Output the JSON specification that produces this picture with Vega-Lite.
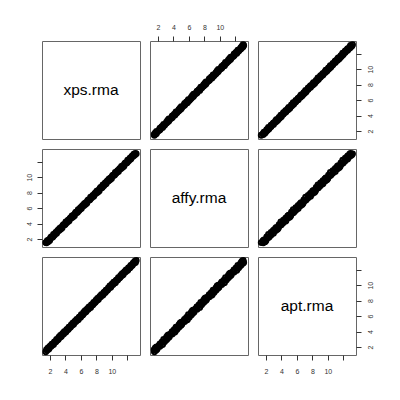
{
  "$schema": "https://vega.github.io/schema/vega-lite/v6.json",
  "padding": {"left": 24, "top": 22, "right": 0, "bottom": 0},
  "config": {
    "font": "Liberation Sans",
    "view": {"stroke": "#666", "strokeWidth": 1},
    "axis": {"grid": false, "domain": false, "title": null, "tickSize": 5, "tickColor": "#333", "labelFontSize": 7, "labelFont": "Liberation Sans", "labelColor": "#333", "labelOverlap": false, "labelFlush": false},
    "point": {"shape": "circle", "filled": false, "color": "black", "size": 24, "strokeWidth": 2, "opacity": 1},
    "text": {"font": "Liberation Sans", "fontSize": 15.5, "color": "black", "align": "center", "baseline": "middle"}
  },
  "datasets": {
    "d": [
      {"xps": 1.45, "affy": 1.53, "apt": 1.38},
      {"xps": 1.55, "affy": 1.50, "apt": 1.65},
      {"xps": 1.65, "affy": 1.77, "apt": 1.62},
      {"xps": 1.75, "affy": 1.65, "apt": 1.88},
      {"xps": 1.85, "affy": 1.88, "apt": 1.74},
      {"xps": 1.95, "affy": 1.81, "apt": 1.99},
      {"xps": 2.05, "affy": 2.11, "apt": 2.14},
      {"xps": 2.15, "affy": 2.25, "apt": 2.09},
      {"xps": 2.25, "affy": 2.23, "apt": 2.37},
      {"xps": 2.35, "affy": 2.26, "apt": 2.34},
      {"xps": 2.45, "affy": 2.59, "apt": 2.32},
      {"xps": 2.55, "affy": 2.49, "apt": 2.62},
      {"xps": 2.65, "affy": 2.66, "apt": 2.67},
      {"xps": 2.75, "affy": 2.84, "apt": 2.66},
      {"xps": 2.85, "affy": 2.73, "apt": 2.96},
      {"xps": 2.95, "affy": 3.00, "apt": 2.91},
      {"xps": 3.05, "affy": 3.13, "apt": 2.98},
      {"xps": 3.15, "affy": 3.10, "apt": 3.25},
      {"xps": 3.25, "affy": 3.37, "apt": 3.22},
      {"xps": 3.35, "affy": 3.25, "apt": 3.48},
      {"xps": 3.45, "affy": 3.48, "apt": 3.34},
      {"xps": 3.55, "affy": 3.41, "apt": 3.59},
      {"xps": 3.65, "affy": 3.71, "apt": 3.74},
      {"xps": 3.75, "affy": 3.85, "apt": 3.69},
      {"xps": 3.85, "affy": 3.83, "apt": 3.97},
      {"xps": 3.95, "affy": 3.86, "apt": 3.94},
      {"xps": 4.05, "affy": 4.19, "apt": 3.92},
      {"xps": 4.15, "affy": 4.09, "apt": 4.22},
      {"xps": 4.25, "affy": 4.26, "apt": 4.27},
      {"xps": 4.35, "affy": 4.44, "apt": 4.26},
      {"xps": 4.45, "affy": 4.33, "apt": 4.56},
      {"xps": 4.55, "affy": 4.60, "apt": 4.51},
      {"xps": 4.65, "affy": 4.73, "apt": 4.58},
      {"xps": 4.75, "affy": 4.70, "apt": 4.85},
      {"xps": 4.85, "affy": 4.97, "apt": 4.82},
      {"xps": 4.95, "affy": 4.85, "apt": 5.08},
      {"xps": 5.05, "affy": 5.08, "apt": 4.94},
      {"xps": 5.15, "affy": 5.01, "apt": 5.19},
      {"xps": 5.25, "affy": 5.31, "apt": 5.34},
      {"xps": 5.35, "affy": 5.45, "apt": 5.29},
      {"xps": 5.45, "affy": 5.43, "apt": 5.57},
      {"xps": 5.55, "affy": 5.46, "apt": 5.54},
      {"xps": 5.65, "affy": 5.79, "apt": 5.52},
      {"xps": 5.75, "affy": 5.69, "apt": 5.82},
      {"xps": 5.85, "affy": 5.86, "apt": 5.87},
      {"xps": 5.95, "affy": 6.04, "apt": 5.86},
      {"xps": 6.05, "affy": 5.93, "apt": 6.16},
      {"xps": 6.15, "affy": 6.20, "apt": 6.11},
      {"xps": 6.25, "affy": 6.33, "apt": 6.18},
      {"xps": 6.35, "affy": 6.30, "apt": 6.45},
      {"xps": 6.45, "affy": 6.57, "apt": 6.42},
      {"xps": 6.55, "affy": 6.45, "apt": 6.68},
      {"xps": 6.65, "affy": 6.68, "apt": 6.54},
      {"xps": 6.75, "affy": 6.61, "apt": 6.79},
      {"xps": 6.85, "affy": 6.91, "apt": 6.94},
      {"xps": 6.95, "affy": 7.05, "apt": 6.89},
      {"xps": 7.05, "affy": 7.03, "apt": 7.17},
      {"xps": 7.15, "affy": 7.06, "apt": 7.14},
      {"xps": 7.25, "affy": 7.39, "apt": 7.12},
      {"xps": 7.35, "affy": 7.29, "apt": 7.42},
      {"xps": 7.45, "affy": 7.46, "apt": 7.47},
      {"xps": 7.55, "affy": 7.64, "apt": 7.46},
      {"xps": 7.65, "affy": 7.53, "apt": 7.76},
      {"xps": 7.75, "affy": 7.80, "apt": 7.71},
      {"xps": 7.85, "affy": 7.93, "apt": 7.78},
      {"xps": 7.95, "affy": 7.90, "apt": 8.05},
      {"xps": 8.05, "affy": 8.17, "apt": 8.02},
      {"xps": 8.15, "affy": 8.05, "apt": 8.28},
      {"xps": 8.25, "affy": 8.28, "apt": 8.14},
      {"xps": 8.35, "affy": 8.21, "apt": 8.39},
      {"xps": 8.45, "affy": 8.51, "apt": 8.54},
      {"xps": 8.55, "affy": 8.65, "apt": 8.49},
      {"xps": 8.65, "affy": 8.63, "apt": 8.77},
      {"xps": 8.75, "affy": 8.66, "apt": 8.74},
      {"xps": 8.85, "affy": 8.99, "apt": 8.72},
      {"xps": 8.95, "affy": 8.89, "apt": 9.02},
      {"xps": 9.05, "affy": 9.06, "apt": 9.07},
      {"xps": 9.15, "affy": 9.24, "apt": 9.06},
      {"xps": 9.25, "affy": 9.13, "apt": 9.36},
      {"xps": 9.35, "affy": 9.40, "apt": 9.31},
      {"xps": 9.45, "affy": 9.53, "apt": 9.38},
      {"xps": 9.55, "affy": 9.50, "apt": 9.65},
      {"xps": 9.65, "affy": 9.77, "apt": 9.62},
      {"xps": 9.75, "affy": 9.65, "apt": 9.88},
      {"xps": 9.85, "affy": 9.88, "apt": 9.74},
      {"xps": 9.95, "affy": 9.81, "apt": 9.99},
      {"xps": 10.05, "affy": 10.11, "apt": 10.14},
      {"xps": 10.15, "affy": 10.25, "apt": 10.09},
      {"xps": 10.25, "affy": 10.23, "apt": 10.37},
      {"xps": 10.35, "affy": 10.26, "apt": 10.34},
      {"xps": 10.45, "affy": 10.59, "apt": 10.32},
      {"xps": 10.55, "affy": 10.49, "apt": 10.62},
      {"xps": 10.65, "affy": 10.66, "apt": 10.67},
      {"xps": 10.75, "affy": 10.84, "apt": 10.66},
      {"xps": 10.85, "affy": 10.73, "apt": 10.96},
      {"xps": 10.95, "affy": 11.00, "apt": 10.91},
      {"xps": 11.05, "affy": 11.13, "apt": 10.98},
      {"xps": 11.15, "affy": 11.10, "apt": 11.25},
      {"xps": 11.25, "affy": 11.37, "apt": 11.22},
      {"xps": 11.35, "affy": 11.25, "apt": 11.48},
      {"xps": 11.45, "affy": 11.48, "apt": 11.34},
      {"xps": 11.55, "affy": 11.41, "apt": 11.59},
      {"xps": 11.65, "affy": 11.71, "apt": 11.74},
      {"xps": 11.75, "affy": 11.85, "apt": 11.69},
      {"xps": 11.85, "affy": 11.83, "apt": 11.97},
      {"xps": 11.95, "affy": 11.86, "apt": 11.94},
      {"xps": 12.05, "affy": 12.19, "apt": 11.92},
      {"xps": 12.15, "affy": 12.09, "apt": 12.22},
      {"xps": 12.25, "affy": 12.26, "apt": 12.27},
      {"xps": 12.35, "affy": 12.44, "apt": 12.26},
      {"xps": 12.45, "affy": 12.33, "apt": 12.56},
      {"xps": 12.55, "affy": 12.60, "apt": 12.51},
      {"xps": 12.65, "affy": 12.73, "apt": 12.58},
      {"xps": 12.75, "affy": 12.70, "apt": 12.85},
      {"xps": 12.85, "affy": 12.97, "apt": 12.82},
      {"xps": 12.95, "affy": 12.85, "apt": 13.08},
      {"xps": 13.05, "affy": 13.08, "apt": 12.94},
      {"xps": 13.15, "affy": 13.01, "apt": 13.19}
    ]
  },
  "columns": 3,
  "spacing": 10,
  "bounds": "flush",
  "concat": [
    {
      "width": 98, "height": 98,
      "data": {"values": [{"label": "xps.rma"}]},
      "mark": {"type": "text"},
      "encoding": {
        "text": {"field": "label", "type": "nominal"},
        "x": {"datum": 7.3, "type": "quantitative", "scale": {"domain": [0.96, 13.64], "nice": false, "zero": false}, "axis": null},
        "y": {"datum": 7.3, "type": "quantitative", "scale": {"domain": [0.96, 13.64], "nice": false, "zero": false}, "axis": null}
      }
    },
    {
      "width": 98, "height": 98,
      "data": {"name": "d"},
      "mark": {"type": "point"},
      "encoding": {
        "x": {"field": "affy", "type": "quantitative", "scale": {"domain": [0.96, 13.64], "nice": false, "zero": false}, "axis": {"orient": "top", "labelPadding": 6, "values": [2, 4, 6, 8, 10, 12], "labelExpr": "datum.value == 12 ? '' : datum.label"}},
        "y": {"field": "xps", "type": "quantitative", "scale": {"domain": [0.96, 13.64], "nice": false, "zero": false}, "axis": null}
      }
    },
    {
      "width": 98, "height": 98,
      "data": {"name": "d"},
      "mark": {"type": "point"},
      "encoding": {
        "x": {"field": "apt", "type": "quantitative", "scale": {"domain": [0.96, 13.64], "nice": false, "zero": false}, "axis": null},
        "y": {"field": "xps", "type": "quantitative", "scale": {"domain": [0.96, 13.64], "nice": false, "zero": false}, "axis": {"orient": "right", "labelAngle": 270, "labelAlign": "center", "labelBaseline": "top", "labelPadding": 5, "values": [2, 4, 6, 8, 10, 12], "labelExpr": "datum.value == 12 ? '' : datum.label"}}
      }
    },
    {
      "width": 98, "height": 98,
      "data": {"name": "d"},
      "mark": {"type": "point"},
      "encoding": {
        "x": {"field": "xps", "type": "quantitative", "scale": {"domain": [0.96, 13.64], "nice": false, "zero": false}, "axis": null},
        "y": {"field": "affy", "type": "quantitative", "scale": {"domain": [0.96, 13.64], "nice": false, "zero": false}, "axis": {"orient": "left", "labelAngle": 270, "labelAlign": "center", "labelBaseline": "bottom", "labelPadding": 4.5, "values": [2, 4, 6, 8, 10, 12], "labelExpr": "datum.value == 12 ? '' : datum.label"}}
      }
    },
    {
      "width": 98, "height": 98,
      "data": {"values": [{"label": "affy.rma"}]},
      "mark": {"type": "text"},
      "encoding": {
        "text": {"field": "label", "type": "nominal"},
        "x": {"datum": 7.3, "type": "quantitative", "scale": {"domain": [0.96, 13.64], "nice": false, "zero": false}, "axis": null},
        "y": {"datum": 7.3, "type": "quantitative", "scale": {"domain": [0.96, 13.64], "nice": false, "zero": false}, "axis": null}
      }
    },
    {
      "width": 98, "height": 98,
      "data": {"name": "d"},
      "mark": {"type": "point"},
      "encoding": {
        "x": {"field": "apt", "type": "quantitative", "scale": {"domain": [0.96, 13.64], "nice": false, "zero": false}, "axis": null},
        "y": {"field": "affy", "type": "quantitative", "scale": {"domain": [0.96, 13.64], "nice": false, "zero": false}, "axis": null}
      }
    },
    {
      "width": 98, "height": 98,
      "data": {"name": "d"},
      "mark": {"type": "point"},
      "encoding": {
        "x": {"field": "xps", "type": "quantitative", "scale": {"domain": [0.96, 13.64], "nice": false, "zero": false}, "axis": {"orient": "bottom", "labelPadding": 7, "values": [2, 4, 6, 8, 10, 12], "labelExpr": "datum.value == 12 ? '' : datum.label"}},
        "y": {"field": "apt", "type": "quantitative", "scale": {"domain": [0.96, 13.64], "nice": false, "zero": false}, "axis": null}
      }
    },
    {
      "width": 98, "height": 98,
      "data": {"name": "d"},
      "mark": {"type": "point"},
      "encoding": {
        "x": {"field": "affy", "type": "quantitative", "scale": {"domain": [0.96, 13.64], "nice": false, "zero": false}, "axis": null},
        "y": {"field": "apt", "type": "quantitative", "scale": {"domain": [0.96, 13.64], "nice": false, "zero": false}, "axis": null}
      }
    },
    {
      "width": 98, "height": 98,
      "data": {"values": [{"label": "apt.rma"}]},
      "mark": {"type": "text"},
      "encoding": {
        "text": {"field": "label", "type": "nominal"},
        "x": {"datum": 7.3, "type": "quantitative", "scale": {"domain": [0.96, 13.64], "nice": false, "zero": false}, "axis": {"orient": "bottom", "labelPadding": 7, "values": [2, 4, 6, 8, 10, 12], "labelExpr": "datum.value == 12 ? '' : datum.label"}},
        "y": {"datum": 7.3, "type": "quantitative", "scale": {"domain": [0.96, 13.64], "nice": false, "zero": false}, "axis": {"orient": "right", "labelAngle": 270, "labelAlign": "center", "labelBaseline": "top", "labelPadding": 5, "values": [2, 4, 6, 8, 10, 12], "labelExpr": "datum.value == 12 ? '' : datum.label"}}
      }
    }
  ]
}
